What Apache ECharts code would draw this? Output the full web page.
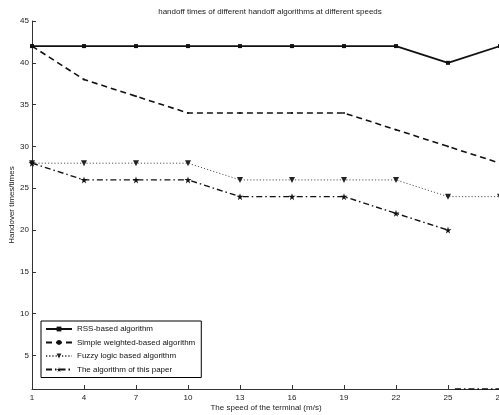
<!DOCTYPE html>
<html><head><meta charset="utf-8">
<script src="https://cdn.jsdelivr.net/npm/echarts@6/dist/echarts.min.js"></script>
<style>html,body{margin:0;padding:0;background:#fff}#c{width:499px;height:415px}</style>
</head><body><div id="c"></div>
<script>
const speeds = [1, 4, 7, 10, 13, 16, 19, 22, 25, 28];
const rssValues = [42, 42, 42, 42, 42, 42, 42, 42, 40, 42];
const weightedValues = [42, 38, 36, 34, 34, 34, 34, 32, 30, 28];
const fuzzyValues = [28, 28, 28, 28, 26, 26, 26, 26, 24, 24];
const paperValues = [28, 26, 26, 26, 24, 24, 24, 22, 20, null];
const paperTailX = [25.4, 28];
const paperTailY = [1, 1];
const yTicks = [5, 10, 15, 20, 25, 30, 35, 40, 45];
const names = ['RSS-based algorithm', 'Simple weighted-based algorithm', 'Fuzzy logic based algorithm', 'The algorithm of this paper'];

const pair = (xs, ys) => xs.map((x, i) => [x, ys[i]]);
const star = 'path://M50,0 L61,35 L98,35 L68,57 L79,91 L50,70 L21,91 L32,57 L2,35 L39,35 Z';
const font = 'Liberation Sans, Arial, sans-serif';
const dashDot = [6, 3, 1.5, 3];

const chart = echarts.init(document.getElementById('c'), null, {renderer: 'canvas'});
chart.setOption({
  animation: false,
  backgroundColor: '#fff',
  title: {
    text: 'handoff times of different handoff algorithms at different speeds',
    left: 265, top: 3, textAlign: 'center',
    textStyle: {fontFamily: font, fontSize: 8, fontWeight: 'normal', color: '#222'}
  },
  grid: {left: 32, top: 21, right: -1, bottom: 26, containLabel: false, outerBoundsMode: 'none'},
  legend: {
    orient: 'vertical', left: 41, top: 321,
    data: names,
    itemWidth: 26, itemHeight: 6, itemGap: 5.5,
    padding: [4, 6, 4, 4],
    borderColor: '#000', borderWidth: 1,
    backgroundColor: '#fff',
    textStyle: {fontFamily: font, fontSize: 8, color: '#111'}
  },
  xAxis: {
    type: 'value', min: 1, max: 28,
    name: 'The speed of the terminal (m/s)', nameLocation: 'middle', nameGap: 15,
    nameMoveOverlap: false,
    nameTextStyle: {fontFamily: font, fontSize: 8, color: '#222'},
    axisLine: {lineStyle: {color: '#333', width: 1}},
    axisTick: {inside: true, length: 4, lineStyle: {color: '#333'}, customValues: speeds},
    axisLabel: {fontFamily: font, fontSize: 8, color: '#222', margin: 5, customValues: speeds},
    splitLine: {show: false}
  },
  yAxis: {
    type: 'value', min: 1, max: 45,
    name: 'Handover times/times', nameLocation: 'middle', nameGap: 16,
    nameMoveOverlap: false,
    nameTextStyle: {fontFamily: font, fontSize: 8, color: '#222'},
    axisLine: {show: true, lineStyle: {color: '#333', width: 1}},
    axisTick: {show: true, inside: true, length: 4, lineStyle: {color: '#333'}, customValues: yTicks},
    axisLabel: {fontFamily: font, fontSize: 8, color: '#222', margin: 3, customValues: yTicks},
    splitLine: {show: false}
  },
  series: [
    {
      name: names[0], type: 'line', data: pair(speeds, rssValues),
      symbol: 'rect', symbolSize: 4, color: '#111', clip: false,
      lineStyle: {color: '#111', width: 1.8, type: 'solid'},
      itemStyle: {color: '#111'}
    },
    {
      name: names[1], type: 'line', data: pair(speeds, weightedValues),
      symbol: 'circle', symbolSize: 2, color: '#111', clip: false,
      lineStyle: {color: '#111', width: 1.6, type: [6, 4]},
      itemStyle: {color: '#111'}
    },
    {
      name: names[2], type: 'line', data: pair(speeds, fuzzyValues),
      symbol: 'triangle', symbolRotate: 180, symbolSize: 6, color: '#222', clip: false,
      lineStyle: {color: '#555', width: 1, type: [1.2, 2]},
      itemStyle: {color: '#222'}
    },
    {
      name: names[3], type: 'line', data: pair(speeds, paperValues),
      symbol: star, symbolSize: 7, color: '#111', clip: false,
      lineStyle: {color: '#111', width: 1.4, type: dashDot},
      itemStyle: {color: '#111'}
    },
    {
      name: 'tail', type: 'line', data: pair(paperTailX, paperTailY),
      symbol: 'none', color: '#111', clip: false,
      lineStyle: {color: '#111', width: 1.4, type: dashDot}
    }
  ]
});
</script></body></html>
